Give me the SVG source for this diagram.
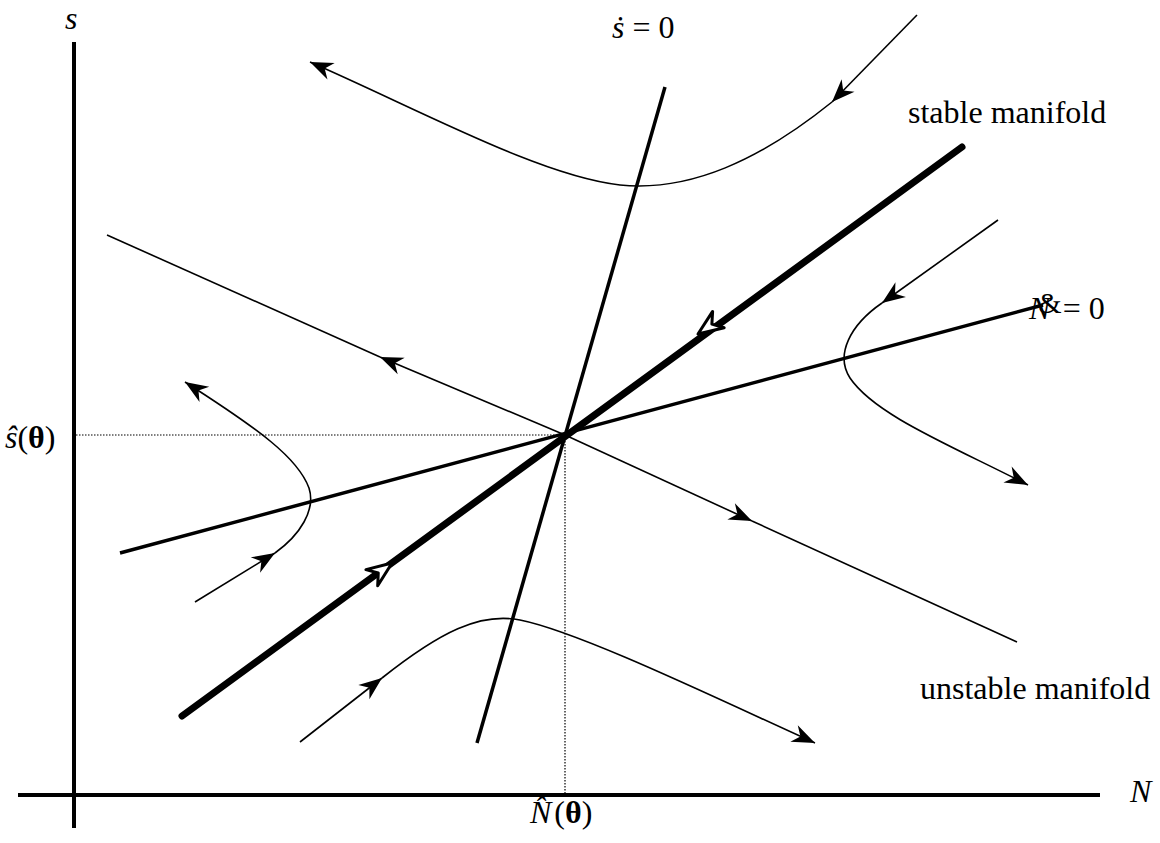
<svg xmlns="http://www.w3.org/2000/svg" width="1160" height="843" viewBox="0 0 1160 843">
<style>
.t{font-family:"Liberation Serif","Times New Roman",serif;font-size:32px;fill:#000}
.i{font-style:italic}
.c{fill:none;stroke:#000;stroke-width:1.6}
.dot{stroke:#000;stroke-width:1.2;stroke-dasharray:1.5,1.5;fill:none}
</style>
<defs>
<marker id="arr" markerUnits="userSpaceOnUse" viewBox="-24 -10 26 20" refX="0" refY="0" markerWidth="26" markerHeight="20" orient="auto" overflow="visible">
<path d="M0,0 L-23,-9 L-16,0 L-23,9 Z" fill="#000"/>
</marker>
<marker id="open" markerUnits="userSpaceOnUse" viewBox="-30 -14 34 28" refX="0" refY="0" markerWidth="34" markerHeight="28" orient="auto" overflow="visible">
<path d="M0,0 L-25,-10 L-17,0 L-25,10 Z" fill="#fff" stroke="#000" stroke-width="3" stroke-linejoin="round"/>
</marker>
</defs>
<g id="axes">
<line x1="74" y1="42" x2="74" y2="828" stroke="#000" stroke-width="4"/>
<line x1="18" y1="795" x2="1100" y2="795" stroke="#000" stroke-width="4"/>
<line class="dot" x1="76" y1="435" x2="565" y2="435"/>
<line class="dot" x1="565" y1="435" x2="565" y2="793"/>
</g>
<g id="connectors">
<line id="sdot0" x1="665" y1="87" x2="477" y2="743" stroke="#000" stroke-width="3.5"/>
<line id="ndot0" x1="120" y1="553" x2="1043" y2="305" stroke="#000" stroke-width="3.5"/>
<g id="stable">
<line x1="182" y1="716" x2="962" y2="147" stroke="#000" stroke-width="7" stroke-linecap="round"/>
<line x1="962" y1="147" x2="698" y2="334" stroke="none" marker-end="url(#open)"/>
<line x1="182" y1="716" x2="392" y2="563" stroke="none" marker-end="url(#open)"/>
</g>
<g id="unstable">
<line x1="565" y1="435" x2="380" y2="357" stroke="#000" stroke-width="1.6" marker-end="url(#arr)"/>
<line x1="380" y1="357" x2="107" y2="235" stroke="#000" stroke-width="1.6"/>
<line x1="565" y1="435" x2="752" y2="521" stroke="#000" stroke-width="1.6" marker-end="url(#arr)"/>
<line x1="752" y1="521" x2="1017" y2="642" stroke="#000" stroke-width="1.6"/>
</g>
<g id="traj-top">
<path class="c" d="M917,15 L832,102" marker-end="url(#arr)"/>
<path class="c" d="M832,102 C760,160 690,192 620,185 C540,176 420,110 310,62" marker-end="url(#arr)"/>
</g>
<g id="traj-right">
<path class="c" d="M998,220 L882,303" marker-end="url(#arr)"/>
<path class="c" d="M882,303 C850,325 835,355 850,378 C875,415 950,445 1028,485" marker-end="url(#arr)"/>
</g>
<g id="traj-left">
<path class="c" d="M195,602 L275,553" marker-end="url(#arr)"/>
<path class="c" d="M275,553 C300,535 316,510 309,488 C298,458 260,430 185,382" marker-end="url(#arr)"/>
</g>
<g id="traj-bottom">
<path class="c" d="M300,742 L382,678" marker-end="url(#arr)"/>
<path class="c" d="M382,678 C440,632 480,612 520,620 C580,632 720,700 815,743" marker-end="url(#arr)"/>
</g>
</g>
<g id="labels">
<text class="t i" x="65" y="29">s</text>
<text class="t i" x="1130" y="802">N</text>
<text class="t" x="612" y="38"><tspan class="i">ṡ</tspan> = 0</text>
<text class="t" x="908" y="123">stable manifold</text>
<text class="t" x="920" y="699">unstable manifold</text>
<text class="t" x="1029" y="319"><tspan class="i">N</tspan><tspan dx="-12" dy="-6" font-size="30">&amp;</tspan><tspan dx="1" dy="6">= 0</tspan></text>
<text class="t" x="5" y="448"><tspan class="i">ŝ</tspan>(<tspan font-weight="bold">θ</tspan>)</text>
<text class="t" x="530" y="823"><tspan class="i">N̂</tspan><tspan dx="3">(</tspan><tspan font-weight="bold">θ</tspan>)</text>
</g>
</svg>
